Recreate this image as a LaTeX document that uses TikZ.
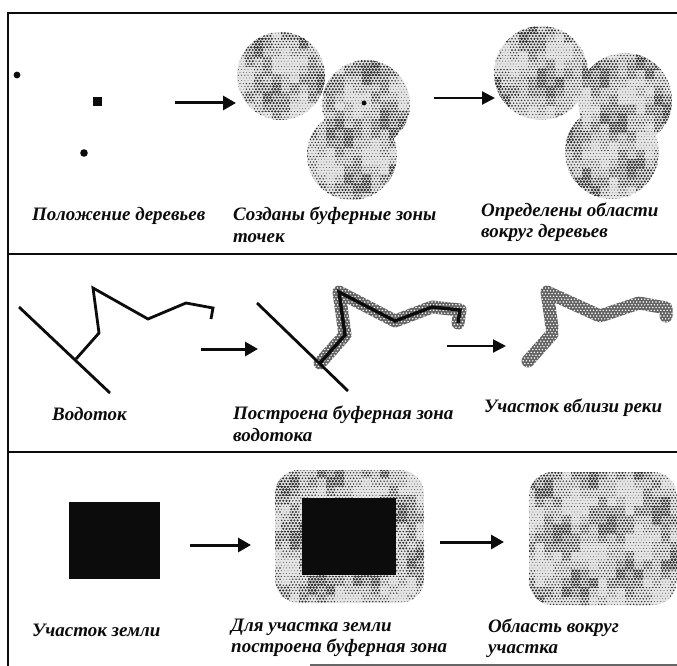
\documentclass[tikz,border=0pt]{standalone}
\usepackage{fontspec}
\setmainfont{Liberation Serif}
\usetikzlibrary{arrows.meta,patterns}
\definecolor{inkc}{HTML}{0C0C0C}
\definecolor{halfbg}{HTML}{E6E6E6}
\definecolor{halfdot}{HTML}{2E2E2E}
\newcommand{\declhalf}[2]{%
  \pgfdeclarepatternformonly{#1}{\pgfqpoint{-2pt}{-2pt}}{\pgfqpoint{5pt}{8pt}}{\pgfqpoint{3.2pt}{5.6pt}}{%
    \pgfpathcircle{\pgfqpoint{0pt}{0pt}}{#2}%
    \pgfpathcircle{\pgfqpoint{1.6pt}{2.8pt}}{#2}%
    \pgfusepath{fill}}}
\declhalf{halfa}{0.45pt}
\declhalf{halfb}{0.8pt}
\declhalf{halfc}{1.15pt}
\declhalf{halfd}{1.45pt}
\declhalf{halfw}{0.85pt}
\newcommand{\halftone}[5]{%
  \fill[halfbg] (#1,#2) rectangle (#1+9*#3,#2+9*#4);
  \foreach \j in {0,...,\numexpr#4-1\relax}{\foreach \i in {0,...,\numexpr#3-1\relax}{%
    \pgfmathsetmacro\px{#1+9*\i}%
    \pgfmathsetmacro\py{#2+9*\j}%
    \pgfmathparse{int(max(1,min(4,2.7+1.8*sin(37*\i+19*\j+#5)*cos(23*\i-41*\j+#5)+0.7*sin(151*\i+97*\j+2*#5))))}%
    \let\lvl\pgfmathresult
    \fill[pattern=half\ifcase\lvl\or a\or b\or c\or d\fi,pattern color=halfdot] (\px,\py) rectangle +(9.05,9.05);
  }}}
\tikzset{
  framerule/.style={line width=2.4pt,draw=inkc},
  faintrule/.style={line width=1.2pt,draw=black!60},
  flow/.style={line width=3pt,draw=inkc,-{Triangle[length=13pt,width=14pt]}},
  thinflow/.style={line width=2.2pt,draw=inkc,-{Triangle[length=13pt,width=13pt]}},
  riverline/.style={line width=2.8pt,draw=inkc,line join=miter},
  riverbuf/.style={line width=13pt,draw=black!62,line join=round,line cap=round},
  whitescreen/.style={pattern=halfw,pattern color=white},
  caption/.style={anchor=west,inner sep=0pt,align=left,font=\fontsize{19}{21.5}\selectfont\bfseries\itshape,text=inkc}
}
\begin{document}
\begin{tikzpicture}[x=1pt,y=-1pt]
\useasboundingbox (0,0) rectangle (677,666);
\fill[white] (0,0) rectangle (677,666);
% frame
\coordinate (ftl) at (8,13); \coordinate (ftr) at (677,13);
\coordinate (fbl) at (8,666);
\coordinate (d1l) at (8,254); \coordinate (d1r) at (677,254);
\coordinate (d2l) at (8,452); \coordinate (d2r) at (677,452);
\coordinate (fbm) at (310,665); \coordinate (fbr) at (677,665);
\draw[framerule] (fbl) -- (ftl) -- (ftr);
\draw[framerule] (d1l) -- (d1r);
\draw[framerule] (d2l) -- (d2r);
\draw[faintrule] (fbm) -- (fbr);
% panel 1 : points
\fill[inkc] (17,75) circle[radius=3.4];
\fill[inkc] (93,97) rectangle (102,106);
\fill[inkc] (84,153) circle[radius=3.8];
% buffers of points
\begin{scope}
  \clip (281,76) circle[radius=44] (366,104) circle[radius=44] (352,155) circle[radius=45];
  \halftone{236}{30}{20}{19}{10}
\end{scope}
\fill[inkc] (364,103) circle[radius=2.4];
\begin{scope}
  \clip (541,73) circle[radius=47] (625,100) circle[radius=47] (612,152) circle[radius=47];
  \halftone{492}{24}{21}{20}{120}
\end{scope}
% panel 1 arrows
\coordinate (a1s) at (175,103); \coordinate (a1e) at (236,103);
\coordinate (a2s) at (434,98); \coordinate (a2e) at (495,98);
\draw[flow] (a1s) -- (a1e);
\draw[thinflow] (a2s) -- (a2e);
% panel 2 : left river
\coordinate (m1a) at (19,307); \coordinate (m1b) at (110,393);
\coordinate (t1a) at (76,359); \coordinate (t1b) at (99,333); \coordinate (t1c) at (93,288);
\coordinate (t1d) at (148,319); \coordinate (t1e) at (186,303); \coordinate (t1f) at (213,308); \coordinate (t1g) at (211,319);
\draw[riverline] (m1a) -- (m1b);
\draw[riverline] (t1a) -- (t1b) -- (t1c) -- (t1d) -- (t1e) -- (t1f) -- (t1g);
% panel 2 : middle river with buffer
\coordinate (m2a) at (257,303); \coordinate (m2b) at (348,391);
\coordinate (t2a) at (320,363); \coordinate (t2b) at (345,335); \coordinate (t2c) at (339,292);
\coordinate (t2d) at (395,321); \coordinate (t2e) at (432,307); \coordinate (t2f) at (460,310); \coordinate (t2g) at (458,323);
\draw[riverbuf] (t2a) -- (t2b) -- (t2c) -- (t2d) -- (t2e) -- (t2f) -- (t2g);
\fill[whitescreen] (305,278) rectangle (475,375);
\draw[riverline] (m2a) -- (m2b);
\draw[riverline,line width=3.4pt] (t2a) -- (t2b) -- (t2c) -- (t2d) -- (t2e) -- (t2f) -- (t2g);
% panel 2 : right buffer
\coordinate (t3a) at (528,361); \coordinate (t3b) at (552,334);
\coordinate (t3c) at (552,327); \coordinate (t3d) at (547,292); \coordinate (t3e) at (600,316);
\coordinate (t3f) at (639,303); \coordinate (t3g) at (666,308); \coordinate (t3h) at (666,316);
\draw[riverbuf] (t3a) -- (t3b);
\draw[riverbuf] (t3c) -- (t3d) -- (t3e) -- (t3f) -- (t3g) -- (t3h);
\fill[whitescreen] (515,278) rectangle (677,375);
% panel 2 arrows
\coordinate (a3s) at (201,349); \coordinate (a3e) at (258,349);
\coordinate (a4s) at (447,346); \coordinate (a4e) at (506,346);
\draw[flow] (a3s) -- (a3e);
\draw[thinflow] (a4s) -- (a4e);
% panel 3
\fill[inkc] (69,502) rectangle (160,579);
\begin{scope}
  \clip[rounded corners=24pt] (275,470) rectangle (424,603);
  \halftone{272}{468}{17}{16}{40}
\end{scope}
\fill[inkc] (302,498) rectangle (396,575);
\begin{scope}
  \clip[rounded corners=24pt] (529,472) rectangle (677,605);
  \halftone{526}{470}{17}{16}{200}
\end{scope}
\coordinate (a5s) at (190,545); \coordinate (a5e) at (251,545);
\coordinate (a6s) at (440,542); \coordinate (a6e) at (504,542);
\draw[flow] (a5s) -- (a5e);
\draw[flow] (a6s) -- (a6e);
% captions
\node[caption] (c1) at (32,216) {Положение деревьев};
\node[caption] (c2) at (233,225) {Созданы буферные зоны\\точек};
\node[caption] (c3) at (481,222) {Определены области\\вокруг деревьев};
\node[caption] (c4) at (52,414) {Водоток};
\node[caption] (c5) at (233,424) {Построена буферная зона\\водотока};
\node[caption] (c6) at (484,408) {Участок вблизи реки};
\node[caption] (c7) at (32,630) {Участок земли};
\node[caption] (c8) at (231,638) {Для участка земли\\построена буферная зона};
\node[caption] (c9) at (488,638) {Область вокруг\\участка};
\end{tikzpicture}
\end{document}
